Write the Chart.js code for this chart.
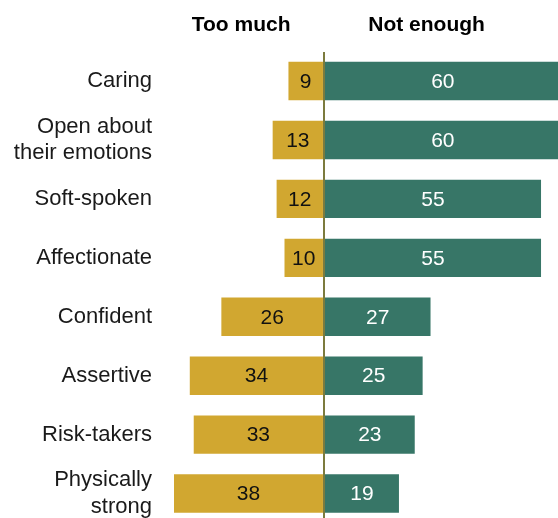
<!DOCTYPE html>
<html lang="en">
  <head>
    <meta charset="UTF-8" />
    <title>Too much / Not enough</title>
    <script src="https://cdn.jsdelivr.net/npm/chart.js@4"></script>
    <style>
      html, body {
        margin: 0;
        padding: 0;
        background: #fff;
        overflow: hidden;
      }
      /* the plot runs a few px past the bottom edge, like the original */
      #wrap {
        width: 558px;
        height: 518px;
        overflow: hidden;
      }
    </style>
  </head>
  <body>
    <div id="wrap"><canvas id="chart" width="558" height="523"></canvas></div>

    <script>
      const categories = [
        "Caring",
        ["Open about", "their emotions"],
        "Soft-spoken",
        "Affectionate",
        "Confident",
        "Assertive",
        "Risk-takers",
        ["Physically", "strong"],
      ];
      const tooMuch = [9, 13, 12, 10, 26, 34, 33, 38];
      const notEnough = [60, 60, 55, 55, 27, 25, 23, 19];
      const headers = ["Too much", "Not enough"];

      const GOLD = "#D1A730";
      const GREEN = "#377667";
      const AXIS = "#7C7B3E";
      const FONT = "'Liberation Sans', Arial, sans-serif";

      // numbers inside the bars + the two column headers
      const labelsPlugin = {
        id: "labels",
        afterDatasetsDraw(chart) {
          const ctx = chart.ctx;
          ctx.save();
          ctx.font = "21px " + FONT;
          ctx.textAlign = "center";
          ctx.textBaseline = "middle";
          chart.data.datasets.forEach((ds, i) => {
            const meta = chart.getDatasetMeta(i);
            meta.data.forEach((bar, j) => {
              ctx.fillStyle = i === 0 ? "#111" : "#fff";
              const x = (bar.x + bar.base) / 2;
              ctx.fillText(String(Math.abs(ds.data[j])), x, bar.y + 1);
            });
          });

          const xs = chart.scales.x;
          ctx.font = "bold 21px " + FONT;
          ctx.fillStyle = "#000";
          ctx.fillText(headers[0], xs.getPixelForValue(-21), 25);
          ctx.fillText(headers[1], xs.getPixelForValue(26), 25);
          ctx.restore();
        },
      };

      new Chart(document.getElementById("chart"), {
        type: "bar",
        data: {
          labels: categories,
          datasets: [
            {
              label: headers[0],
              data: tooMuch.map((v) => -v),
              backgroundColor: GOLD,
              categoryPercentage: 1,
              barPercentage: 0.652,
            },
            {
              label: headers[1],
              data: notEnough,
              backgroundColor: GREEN,
              categoryPercentage: 1,
              barPercentage: 0.652,
            },
          ],
        },
        options: {
          indexAxis: "y",
          responsive: false,
          animation: false,
          layout: {
            padding: { top: 51.6, bottom: 0, left: 0, right: 0 },
          },
          plugins: {
            legend: { display: false },
            tooltip: { enabled: false },
          },
          scales: {
            x: {
              stacked: true,
              min: -38,
              max: 59.3,
              z: 1,
              position: "top",
              ticks: { display: false },
              border: { display: false },
              grid: {
                drawTicks: false,
                lineWidth: 2,
                color: (c) => (c.tick && c.tick.value === 0 ? AXIS : "rgba(0,0,0,0)"),
              },
              afterFit(scale) {
                scale.height = 0;
              },
            },
            y: {
              stacked: true,
              grid: { display: false },
              border: { display: false },
              ticks: {
                padding: 14,
                color: "#1a1a1a",
                font: { family: FONT, size: 22, lineHeight: 1.22 },
              },
              afterFit(scale) {
                scale.width = 174;
                scale.paddingTop = 0;
                scale.paddingBottom = 0;
              },
            },
          },
        },
        plugins: [labelsPlugin],
      });
    </script>
  </body>
</html>
